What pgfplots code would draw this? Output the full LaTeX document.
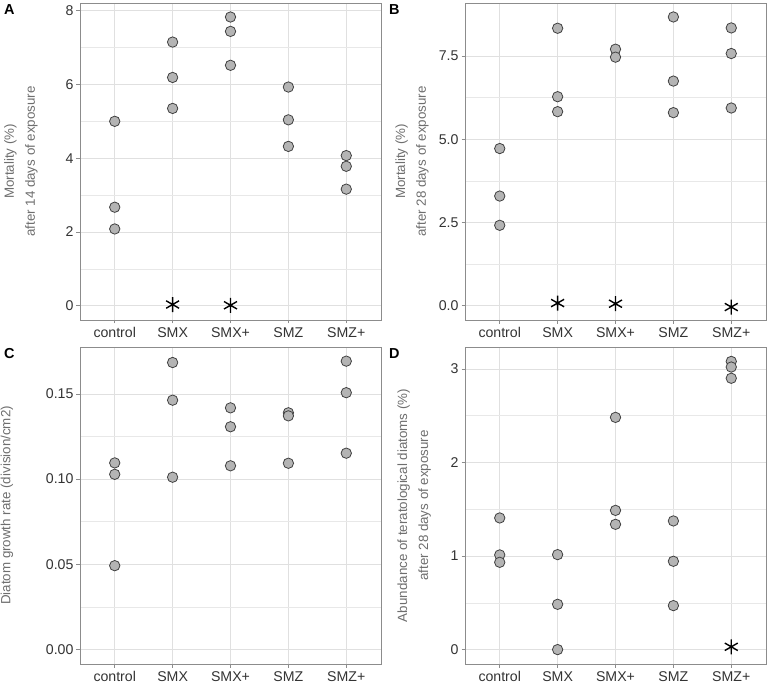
\documentclass[border=0pt]{standalone}
\usepackage{pgfplots}
\pgfplotsset{compat=1.18}
\usepackage{fontspec}
\setmainfont{Liberation Sans}
\definecolor{gridc}{HTML}{E0E0E0}
\definecolor{borderc}{HTML}{8C8C8C}
\definecolor{tickc}{HTML}{333333}
\definecolor{labc}{HTML}{6E6E6E}
\definecolor{ptfill}{HTML}{B4B4B4}
\definecolor{ptdraw}{HTML}{404040}

\pgfplotstableread{
x y
1 5.00
1 2.67
1 2.08
2 7.15
2 6.19
2 5.35
3 7.83
3 7.44
3 6.52
4 5.93
4 5.04
4 4.32
5 4.07
5 3.78
5 3.16
}\dataA
\pgfplotstableread{
x y
2 0.03
3 0.01
}\starA
\pgfplotstableread{
x y
1 4.72
1 3.29
1 2.41
2 8.34
2 6.28
2 5.83
3 7.71
3 7.47
4 8.68
4 6.75
4 5.80
5 8.35
5 7.58
5 5.94
}\dataB
\pgfplotstableread{
x y
2 0.07
3 0.05
5 -0.05
}\starB
\pgfplotstableread{
x y
1 0.1095
1 0.1028
1 0.0492
2 0.1684
2 0.1463
2 0.1011
3 0.1418
3 0.1307
3 0.1078
4 0.1389
4 0.1371
4 0.1093
5 0.1692
5 0.1507
5 0.1152
}\dataC
\pgfplotstableread{
x y
1 1.407
1 1.012
1 0.933
2 1.015
2 0.484
2 0.000
3 2.482
3 1.488
3 1.339
4 1.375
4 0.944
4 0.470
5 3.080
5 3.020
5 2.900
}\dataD
\pgfplotstableread{
x y
5 0.03
}\starD

\pgfplotsset{
  panel/.style={
    scale only axis, width=301bp, height=317bp,
    xmin=0.4, xmax=5.6,
    xtick={1,2,3,4,5}, xticklabels={control,SMX,SMX+,SMZ,SMZ+},
    xmajorgrids, ymajorgrids, yminorgrids, minor y tick num=1,
    major grid style={draw=gridc, line width=0.7bp},
    minor grid style={draw=gridc!75!white, line width=0.5bp},
    axis line style={draw=borderc, line width=0.9bp},
    tick style={draw=borderc, line width=0.7bp},
    tick align=outside, major tick length=3.5bp, minor tick length=0pt,
    xtick pos=bottom, ytick pos=left,
    tick label style={font=\fontsize{14.2}{16}\selectfont, text=tickc},
    xticklabel style={yshift=-0.5bp},
    yticklabel style={xshift=0.5bp},
    ylabel style={font=\fontsize{13.4}{21}\selectfont, text=labc, align=center, anchor=center},
    clip=false,
  },
  pts/.style={only marks, mark=*, mark size=5.2bp,
    mark options={fill=ptfill, draw=ptdraw, line width=0.8bp}},
  star/.style={only marks, mark=asterisk, mark size=7.5bp,
    mark options={draw=black, line width=1.4bp}},
}

\begin{document}
\begin{tikzpicture}
\useasboundingbox (0,0) rectangle (770bp,-684bp);

% Panel A
\begin{axis}[panel, at={(80bp,-3bp)}, anchor=north west,
  ymin=-0.39, ymax=8.21, ytick={0,2,4,6,8}, yticklabels={0,2,4,6,8},
  ylabel={Mortality (\%)\\after 14 days of exposure},
  ylabel style={at={(axis description cs:-0.196,0.5)}}]
\addplot[pts] table[x=x,y=y] {\dataA};
\addplot[star] table[x=x,y=y] {\starA};
\end{axis}
\node[anchor=north west, font=\fontsize{14.5}{16}\selectfont\bfseries, inner sep=0pt] at (4bp,-4bp) {A};

% Panel B
\begin{axis}[panel, at={(465bp,-3bp)}, anchor=north west,
  ymin=-0.44, ymax=9.1, ytick={0,2.5,5,7.5}, yticklabels={0.0,2.5,5.0,7.5},
  ylabel={Mortality (\%)\\after 28 days of exposure},
  ylabel style={at={(axis description cs:-0.176,0.5)}}]
\addplot[pts] table[x=x,y=y] {\dataB};
\addplot[star] table[x=x,y=y] {\starB};
\end{axis}
\node[anchor=north west, font=\fontsize{14.5}{16}\selectfont\bfseries, inner sep=0pt] at (389bp,-4bp) {B};

% Panel C
\begin{axis}[panel, at={(80bp,-347bp)}, anchor=north west,
  ymin=-0.0085, ymax=0.1775, ytick={0,0.05,0.10,0.15}, yticklabels={0.00,0.05,0.10,0.15},
  ylabel={Diatom growth rate (division/cm2)},
  ylabel style={at={(axis description cs:-0.243,0.5)}}]
\addplot[pts] table[x=x,y=y] {\dataC};
\end{axis}
\node[anchor=north west, font=\fontsize{14.5}{16}\selectfont\bfseries, inner sep=0pt] at (4bp,-348bp) {C};

% Panel D
\begin{axis}[panel, at={(465bp,-347bp)}, anchor=north west,
  ymin=-0.154, ymax=3.234, ytick={0,1,2,3}, yticklabels={0,1,2,3},
  ylabel={Abundance of teratological diatoms (\%)\\after 28 days of exposure},
  ylabel style={at={(axis description cs:-0.169,0.5)}}]
\addplot[pts] table[x=x,y=y] {\dataD};
\addplot[star] table[x=x,y=y] {\starD};
\end{axis}
\node[anchor=north west, font=\fontsize{14.5}{16}\selectfont\bfseries, inner sep=0pt] at (389bp,-348bp) {D};
\end{tikzpicture}
\end{document}
